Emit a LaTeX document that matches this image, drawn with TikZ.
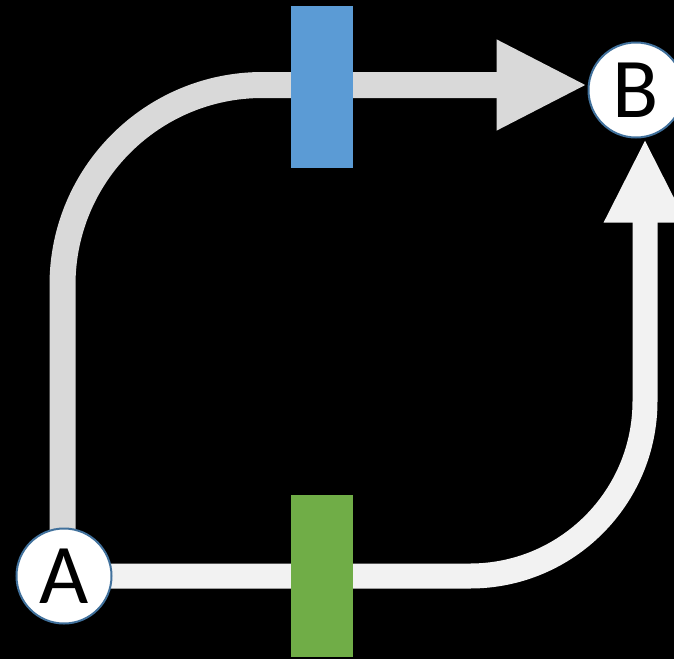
\documentclass[tikz,border=0pt]{standalone}
\usepackage{fontspec}
\setmainfont{Carlito}
\usetikzlibrary{arrows.meta,backgrounds}

\definecolor{uppergray}{HTML}{D9D9D9}
\definecolor{lowergray}{HTML}{F2F2F2}
\definecolor{gateblue}{HTML}{5B9BD5}
\definecolor{gategreen}{HTML}{70AD47}
\definecolor{ringblue}{HTML}{41719C}

\tikzset{
    endpoint/.style={circle, draw=ringblue, line width=2pt, fill=white,
        minimum size=95pt, inner sep=0pt, font=\fontsize{85}{85}\selectfont},
    gate/.style={rectangle, minimum width=62pt, minimum height=162pt, inner sep=0pt},
}

\begin{document}
\begin{tikzpicture}[x=1pt, y=-1pt]
    \useasboundingbox (0,0) rectangle (674,659);

    \node[endpoint] (A) at (64,576) {A};
    \node[endpoint] (B) at (636,90) {B};
    \node[gate, fill=gateblue] (upgate) at (322,86.5) {};
    \node[gate, fill=gategreen] (downgate) at (322,575.5) {};

    %%%%%%%%%%%%%%%%%%%%%%%%%%%%%%%%%%%%%%%%

    \begin{scope}[on background layer]
        \fill[black] (0,0) rectangle (674,659);
        \draw[uppergray, line width=26pt, rounded corners=200pt,
            -{Triangle[length=91pt, width=84pt]}]
            ([xshift=-1.5pt]A.center) |- ([yshift=5pt]B.west);
        \draw[lowergray, line width=25pt, rounded corners=175pt,
            -{Triangle[length=84pt, width=76pt]}]
            (A.center) -| ([xshift=9pt]B.south);
    \end{scope}
\end{tikzpicture}
\end{document}
